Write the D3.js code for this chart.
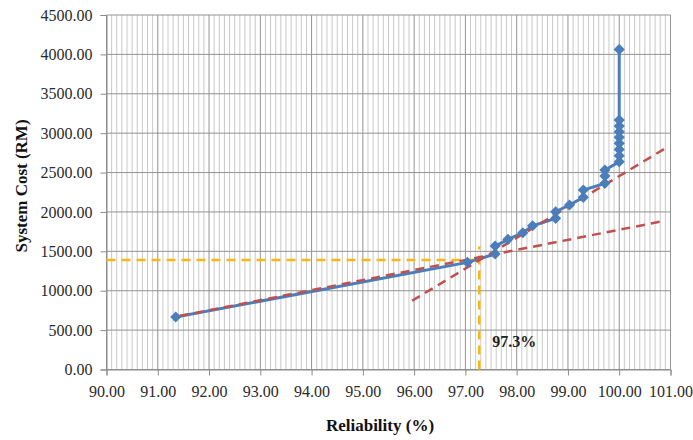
<!DOCTYPE html>
<html><head><meta charset="utf-8">
<script src="https://cdn.jsdelivr.net/npm/d3@7"></script>
<style>body{margin:0;background:#fff;}svg{display:block;}</style>
</head><body>
<script>
const reliability = [91.35, 97.04, 97.58, 97.58, 97.83, 98.12, 98.31, 98.76, 98.76, 99.03, 99.30, 99.30, 99.72, 99.72, 99.72, 100.00, 100.00, 100.00, 100.00, 100.00, 100.00, 100.00, 100.00, 100.00];
const cost = [666, 1360, 1466, 1567, 1652, 1736, 1825, 1919, 2003, 2088, 2185, 2278, 2363, 2456, 2532, 2637, 2713, 2794, 2871, 2947, 3018, 3090, 3166, 4063];
const trend1X = [91.43, 100.80];
const trend1Y = [679, 1876];
const trend2X = [95.96, 100.93];
const trend2Y = [873, 2820];
const markerX = [90, 97.27, 97.27];
const markerY = [1390, 1390, 0];
const markerTop = 1560;
const xTicks = [90, 91, 92, 93, 94, 95, 96, 97, 98, 99, 100, 101];
const yTicks = [0, 500, 1000, 1500, 2000, 2500, 3000, 3500, 4000, 4500];
const annotation = "97.3%";

const W = 693, H = 440;
const svg = d3.select("body").append("svg").attr("width", W).attr("height", H);
const x = d3.scaleLinear().domain([90, 101]).range([106.5, 670.5]);
const y = d3.scaleLinear().domain([0, 4500]).range([369.5, 15]);
const serif = "'Liberation Serif','Times New Roman',serif";

// minor vertical grid
const minor = d3.range(0, 111).map(i => 90 + i * 0.1).filter(v => Math.abs(v - Math.round(v)) > 1e-6);
svg.append("g").selectAll("line").data(minor).join("line")
  .attr("x1", d => x(d)).attr("x2", d => x(d)).attr("y1", y(0)).attr("y2", y(4500))
  .attr("stroke", "#c9c9c9").attr("stroke-width", 1);
// major vertical grid
svg.append("g").selectAll("line").data(xTicks).join("line")
  .attr("x1", d => x(d)).attr("x2", d => x(d)).attr("y1", y(0)).attr("y2", y(4500))
  .attr("stroke", "#939393").attr("stroke-width", 1);
// horizontal grid
svg.append("g").selectAll("line").data(yTicks).join("line")
  .attr("x1", x(90)).attr("x2", x(101)).attr("y1", d => y(d)).attr("y2", d => y(d))
  .attr("stroke", "#939393").attr("stroke-width", 1);

// axes
const xAxis = svg.append("g").attr("transform", `translate(0,${y(0)})`)
  .call(d3.axisBottom(x).tickValues(xTicks).tickFormat(d3.format(".2f")).tickSize(6).tickPadding(10));
const yAxis = svg.append("g").attr("transform", `translate(${x(90)},0)`)
  .call(d3.axisLeft(y).tickValues(yTicks).tickFormat(d3.format(".2f")).tickSize(6).tickPadding(8));
[xAxis, yAxis].forEach(a => {
  a.select(".domain").attr("stroke", "#8a8a8a");
  a.selectAll(".tick line").attr("stroke", "#8a8a8a");
  a.selectAll("text").attr("font-family", serif).attr("font-size", 16).attr("fill", "#2a2a2a");
});

// yellow dashed marker lines
const yellow = "#f7b90f";
svg.append("line").attr("x1", x(markerX[0])).attr("x2", x(markerX[1]))
  .attr("y1", y(markerY[0])).attr("y2", y(markerY[1]))
  .attr("stroke", yellow).attr("stroke-width", 2.5).attr("stroke-dasharray", "9,6");
svg.append("line").attr("x1", x(markerX[2])).attr("x2", x(markerX[2]))
  .attr("y1", y(markerY[2])).attr("y2", y(markerTop))
  .attr("stroke", yellow).attr("stroke-width", 2.5).attr("stroke-dasharray", "9,6");

// series line
const line = d3.line().x(d => x(d[0])).y(d => y(d[1]));
const pts = reliability.map((r, i) => [r, cost[i]]);
svg.append("path").datum(pts).attr("d", line)
  .attr("fill", "none").attr("stroke", "#4a7ebb").attr("stroke-width", 3);

// red dashed trend lines
const red = "#c0504d";
[[trend1X, trend1Y], [trend2X, trend2Y]].forEach(([tx, ty]) => {
  svg.append("path").datum(tx.map((v, i) => [v, ty[i]])).attr("d", line)
    .attr("fill", "none").attr("stroke", red).attr("stroke-width", 2.5).attr("stroke-dasharray", "9,6");
});

// markers
svg.append("g").selectAll("path").data(pts).join("path")
  .attr("d", d3.symbol().type(d3.symbolSquare).size(62))
  .attr("transform", d => `translate(${x(d[0])},${y(d[1])}) rotate(45)`)
  .attr("fill", "#4a7ebb");

// annotation
svg.append("text").attr("x", x(97.27) + 13).attr("y", 347)
  .attr("font-family", serif).attr("font-weight", "bold").attr("font-size", 16).attr("fill", "#222")
  .text(annotation);

// axis titles
svg.append("text").attr("x", 380).attr("y", 431).attr("text-anchor", "middle")
  .attr("font-family", serif).attr("font-weight", "bold").attr("font-size", 17).attr("fill", "#111")
  .text("Reliability (%)");
svg.append("text").attr("transform", "translate(27,186) rotate(-90)").attr("text-anchor", "middle")
  .attr("font-family", serif).attr("font-weight", "bold").attr("font-size", 17).attr("fill", "#111")
  .text("System Cost (RM)");
</script>
</body></html>
